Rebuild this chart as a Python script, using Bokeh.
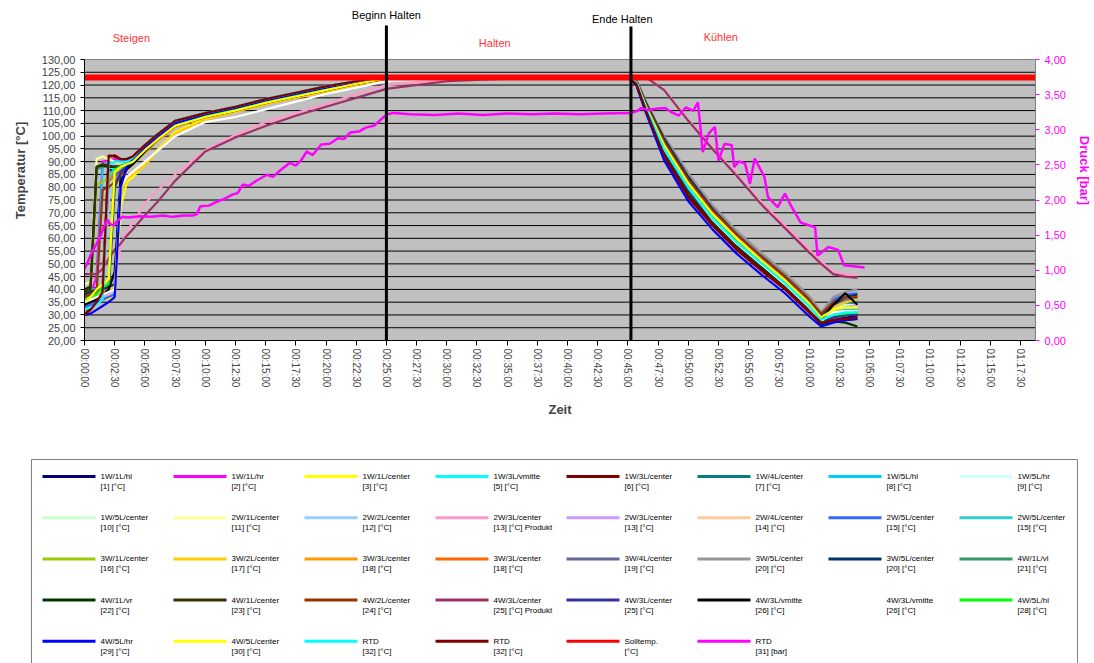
from bokeh.plotting import figure
from bokeh.models import Range1d, LinearAxis, FixedTicker
from bokeh.embed import file_html
from bokeh.resources import INLINE
from bokeh.core.properties import value

FONT = "Liberation Sans"

# ---------------- data ----------------
zeit = [0, 0.5, 1, 1.5, 2, 2.5, 3, 3.5, 4, 5, 6, 7.5, 10, 12.5, 15, 17.5, 20, 22.5, 25,
        30, 35, 45, 45.7, 46.5, 48, 50, 52, 54, 56, 58, 60, 61, 62, 63, 64]

s01 = [40, 40, 40.5, 41, 86, 88, 88, 89, 90, 95, 99, 104.5, 108, 110.5, 113.5, 116, 118.5, 121, 123, 123, 123, 123, 121, 110.5, 94, 78.5, 67, 57.5, 49.5, 41.5, 32.5, 27.5, 28, 29, 29.5]
s02 = [35, 38, 45, 90, 90.5, 91, 90.5, 90, 91, 96, 100, 105.5, 108.5, 111, 114, 116.5, 119, 121.5, 123.5, 123, 123, 123, 121.5, 112, 97, 82, 70, 60.5, 52, 44, 35, 30, 31.5, 32, 32]
s03 = [34, 35, 36, 36, 36.5, 37, 72, 82, 84, 89, 94.5, 101.5, 107, 110, 113, 115.5, 118, 120.5, 122.5, 123, 123, 123, 121, 111.5, 96.5, 81.5, 69.5, 60, 51.5, 43.5, 34.5, 29, 31, 33, 33]
s04 = [33, 36, 38, 40, 88, 87, 88, 89, 91, 96, 100, 105.5, 108.5, 111, 114, 116.5, 119, 121.5, 123.5, 123, 123, 123, 121, 111, 95, 80, 68, 58.5, 50.5, 42.5, 33.5, 28, 30, 32, 32]
s05 = [30, 33, 36, 40, 92.5, 92, 91, 91, 92, 96.5, 100.5, 106, 109, 111.5, 114.5, 117, 119.5, 121.5, 123.5, 123, 123, 123, 120, 109.5, 92, 76, 65, 55.5, 47.5, 40, 31, 26.5, 27.5, 28, 28.5]
s06 = [38, 38, 39, 40, 41, 85, 88, 89, 90.5, 95.5, 99.5, 105, 108.5, 111, 114, 116.5, 119, 121, 123, 123, 123, 123, 121, 111, 95.5, 80.5, 68.5, 59, 51, 43, 34, 28, 31, 34, 35]
s07 = [32, 35, 38, 88, 90, 90, 89.5, 90, 91.5, 96.5, 100.5, 106, 109, 111.5, 114.5, 117, 119.5, 121.5, 123.5, 123, 123, 123, 121.5, 112.5, 98, 83, 71, 61.5, 53, 45, 36, 29.5, 33, 35, 36]
s08 = [36, 37, 38, 40, 84, 86, 87, 88, 90, 95, 99, 104.5, 108, 110.5, 113.5, 116, 118.5, 121, 123, 123, 123, 123, 121, 111, 95, 80, 68, 58.5, 50.5, 42.5, 33.5, 28, 31, 33, 33.5]
s09 = [37, 38, 39, 41, 80, 84, 86, 88, 89.5, 94.5, 99, 104, 108, 110.5, 113.5, 116, 118.5, 121, 123, 123, 123, 123, 121, 111, 95.5, 80.5, 68.5, 59, 51, 43, 34, 28.5, 32, 34, 34]
s10 = [42, 43, 91, 92, 91, 90, 89, 89, 90, 95, 99, 104.5, 108, 110.5, 113.5, 116, 118.5, 121, 123, 123, 123, 123, 121, 111, 95, 80, 68, 58.5, 50.5, 42.5, 33.5, 28, 30, 31, 31.5]
s11 = [35, 36, 37, 38, 75, 86, 88, 89, 90, 95, 99.5, 104.5, 108, 110.5, 113.5, 116, 118.5, 121, 123, 123, 123, 123, 121.5, 112.5, 98, 83, 71, 61.5, 53, 45, 36, 30, 35, 38, 39]
s12 = [33, 34, 35, 36, 38, 46, 57, 63, 66, 73.5, 78.5, 85, 94.5, 100.5, 105.5, 109, 112.5, 116.5, 120, 122, 122.8, 123, 123, 123, 118, 106.5, 95.5, 85, 74.5, 65, 55.5, 51, 47, 46, 45.5]
s13 = [36, 37, 38, 39, 40, 83, 87, 88, 90, 95, 99, 104.5, 108, 110.5, 113.5, 116, 118.5, 121, 123, 123, 123, 123, 121, 111, 95.5, 80.5, 68.5, 59, 51, 43, 34, 28, 31, 33, 34]
s14 = [38, 39, 40, 41, 80, 81, 82, 86, 89, 94, 98.5, 104, 107.5, 110, 113, 115.5, 118, 120.5, 122.5, 123, 123, 123, 121, 112, 97, 82, 70, 60.5, 52, 44, 35, 29, 33, 36, 37]
s15 = [33, 34, 35, 36, 37, 38, 82, 87, 90, 95, 99, 104.5, 108, 110.5, 113.5, 116, 118.5, 121, 123, 123, 123, 123, 122, 113, 99.5, 85, 72.5, 62.5, 54, 46, 37, 31, 36, 38, 38.5]
s16 = [37, 38, 39, 40, 85, 87, 88, 89, 90.5, 95.5, 99.5, 105, 108.5, 111, 114, 116.5, 119, 121, 123, 123, 123, 123, 121.5, 111, 95.5, 80.5, 68.5, 59, 51, 43, 34, 28.5, 31, 32, 32]
s17 = [39, 40, 81, 82, 84, 86, 87, 88, 90, 95, 99, 104.5, 108, 110.5, 113.5, 116, 118.5, 121, 123, 123, 123, 123, 121, 111, 95, 80, 68, 58.5, 50.5, 42.5, 33.5, 28, 30, 31, 31]
s18 = [36, 37, 38, 39, 40, 41, 78, 83, 85, 88.5, 94, 101, 106.5, 109.5, 112.5, 115, 117.5, 120, 122.5, 123, 123, 123, 121, 112, 97.5, 82.5, 70.5, 61, 52.5, 44.5, 35.5, 29.5, 33, 35, 36]
s19 = [38, 39, 40, 41, 42, 80, 84, 87, 89, 93.5, 98, 103.5, 107.5, 110, 113, 115.5, 118, 120.5, 122.5, 123, 123, 123, 121.5, 112.5, 98, 83, 71, 61.5, 53, 45, 36, 30, 34, 37, 38]
s20 = [37, 38, 39, 40, 82, 85, 87, 88, 90, 94.5, 99, 104.5, 108, 110.5, 113.5, 116, 118.5, 121, 123, 123, 123, 123, 121.5, 112.5, 98.5, 83.5, 71.5, 62, 53.5, 45.5, 36, 30, 35, 37, 38]
s21 = [40, 40, 40, 41, 41, 84, 87, 88, 90, 95, 99, 104.5, 108, 110.5, 113.5, 116, 118.5, 121, 123, 123, 123, 123, 122, 113, 99, 84.5, 72, 62, 53.5, 45.5, 36.5, 30.5, 34, 36, 37]
s22 = [39, 40, 40, 41, 83, 86, 87, 88.5, 90, 95, 99, 104.5, 108, 110.5, 113.5, 116, 118.5, 121, 123, 123, 123, 123, 122, 113.5, 100, 85.5, 73, 63, 54.5, 46.5, 37.5, 31, 37, 39, 40]
s23 = [38, 39, 40, 40, 41, 42, 86, 88, 90, 95, 99, 104.5, 108, 110.5, 113.5, 116, 118.5, 121, 123, 123, 123, 123, 121.5, 113, 99, 84, 71.5, 61.5, 53, 45, 36, 30, 34, 37, 38]
s24 = [40, 41, 87, 88, 88, 88, 88.5, 89, 90, 95, 99, 104.5, 108, 110.5, 113.5, 116, 118.5, 121, 123, 123, 123, 123, 121, 111, 95, 80, 68, 58.5, 50.5, 42.5, 33.5, 28, 30, 31, 31]
s25 = [40, 41, 88, 88.5, 88, 88, 88, 89, 90, 95, 99, 104.5, 108, 110.5, 113.5, 116, 118.5, 121, 123, 123, 123, 123, 120.5, 110, 93, 77, 66, 56.5, 48.5, 41, 32, 26.5, 27.5, 27, 25.5]
s26 = [39, 40, 88, 89, 88.5, 88, 88, 89, 90, 95, 99, 104.5, 108, 110.5, 113.5, 116, 118.5, 121, 123, 123, 123, 123, 121, 110.5, 94, 78.5, 67, 57.5, 49.5, 42, 33, 27.5, 29, 30, 30]
s27 = [37, 38, 39, 79, 80, 82, 85, 87, 89.5, 94.5, 99, 104, 107.5, 110, 113, 115.5, 118, 120.5, 122.5, 123, 123, 123, 121.5, 112.5, 98, 83, 71, 61.5, 53, 45, 36, 30.5, 35, 37, 37]
s28 = [46, 46, 46, 48, 52, 55.5, 58, 61, 63.5, 69, 74, 82.5, 94, 99.5, 104, 108, 111.5, 115, 118.5, 121.5, 122.5, 123, 123, 123, 118, 106, 95, 84.5, 73.5, 64, 54.5, 50, 46, 45, 44.5]
s29 = [35, 36, 37, 38, 39, 80, 86, 88, 90, 95, 99, 104.5, 108, 110.5, 113.5, 116, 118.5, 121, 123, 123, 123, 123, 121, 110.5, 94.5, 79, 67.5, 58, 50, 42, 33, 27.5, 29, 30, 30]
s30 = [34, 35, 36, 38, 40, 47, 82, 87, 89, 94, 98.5, 104, 107.5, 110, 113, 115.5, 118, 120.5, 122.5, 123, 123, 123, 121, 111, 95.5, 80, 68, 58.5, 50.5, 42.5, 33.5, 28, 34, 38.5, 34]
s31 = [35, 36, 37, 38, 39, 40, 80, 84, 86, 90, 94, 100, 105.5, 107.5, 110.5, 113.5, 116.5, 119, 121.5, 122.5, 123, 123, 121, 111, 95, 80, 67.5, 58, 50, 42, 33, 27.5, 31, 31.5, 31.5]
s32 = [36, 37, 38, 41, 42, 87, 88, 88.5, 90, 95, 99, 104.5, 108, 110.5, 113.5, 116, 118.5, 121, 123, 123, 123, 123, 121, 111, 95, 80, 68, 58.5, 50.5, 42.5, 33.5, 28, 30, 30.5, 31]
s33 = [30, 30.5, 32, 33.5, 35, 37, 80, 88, 91, 95.5, 99.5, 105, 108.5, 111, 114, 116.5, 119, 121, 123, 123, 123, 123, 120, 109, 90.5, 74.5, 63.5, 54, 46, 38.5, 29.5, 25.5, 27, 28, 28.5]
s34 = [35, 37, 40, 42, 44, 86, 88, 89, 90, 94.5, 98.5, 104, 107.5, 110, 113, 115.5, 118, 120.5, 122.5, 123, 123, 123, 121, 111.5, 96.5, 81.5, 69.5, 60, 51.5, 43.5, 34.5, 29, 32, 33, 33]
s35 = [32, 33, 34, 36, 89, 90, 90, 90, 91.5, 96.5, 100.5, 106, 109, 111.5, 114.5, 117, 119.5, 121.5, 123.5, 123, 123, 123, 121, 111, 95, 80, 68, 58.5, 50.5, 42.5, 33.5, 28, 30, 31, 31]
s36 = [30, 32, 35, 39, 92, 92.5, 91, 91, 92, 96.5, 100.5, 106, 109, 111.5, 114.5, 117, 119.5, 121.5, 123.5, 123, 123, 123, 120.5, 110, 92.5, 76.5, 65.5, 56, 48, 40.5, 31.5, 27, 28, 28.5, 29]

soll_zeit = [0, 78.75]
soll_temp = [123, 123]

druck_punkte = [
    (0, 1.02), (0.2, 1.09), (0.6, 1.25), (1.0, 1.38), (1.3, 1.47), (1.6, 1.62), (1.9, 1.72),
    (2.1, 1.66), (2.4, 1.64), (2.7, 1.70), (3.1, 1.76), (3.6, 1.75), (4.6, 1.77), (5.5, 1.76),
    (6.5, 1.78), (7.3, 1.76), (8.2, 1.78), (9.0, 1.78), (9.3, 1.80), (9.6, 1.91), (10.3, 1.92),
    (10.9, 1.97), (11.6, 2.02), (12.3, 2.08), (12.7, 2.10), (13.1, 2.22), (13.6, 2.20),
    (14.2, 2.27), (15.1, 2.36), (15.6, 2.33), (16.2, 2.42), (17.0, 2.53), (17.5, 2.49),
    (18.0, 2.58), (18.4, 2.69), (18.9, 2.64), (19.6, 2.79), (20.3, 2.80), (21.0, 2.88),
    (21.5, 2.87), (22.0, 2.96), (22.8, 2.98), (23.3, 3.03), (24.0, 3.06), (24.7, 3.17),
    (25.1, 3.22), (25.6, 3.24), (27, 3.22), (29, 3.21), (31, 3.23), (33, 3.21), (35, 3.23),
    (37, 3.22), (39, 3.23), (41, 3.22), (43, 3.23), (45.3, 3.24), (45.8, 3.27), (46.1, 3.31),
    (46.7, 3.28), (47.3, 3.30), (48.1, 3.31), (48.6, 3.25), (49.2, 3.20), (49.8, 3.32),
    (50.4, 3.27), (50.8, 3.39), (51.2, 2.68), (51.7, 2.95), (52.2, 3.04), (52.5, 2.56),
    (53.0, 2.80), (53.6, 2.78), (53.8, 2.47), (54.2, 2.55), (54.7, 2.52), (55.1, 2.23),
    (55.5, 2.59), (56.3, 2.33), (56.6, 2.04), (57.4, 1.90), (58.0, 2.09), (58.5, 1.92),
    (59.3, 1.68), (60.5, 1.61), (60.7, 1.21), (61.6, 1.33), (62.4, 1.29), (62.9, 1.07),
    (64.6, 1.04),
]
druck_zeit = [a for a, b in druck_punkte]
druck_bar = [b for a, b in druck_punkte]

phase_zeit = [25.0, 45.25]

temp_series = [s01, s02, s03, s04, s05, s06, s07, s08, s09, s10, s11, s12, s13, s14, s15, s16, s17, s18,
               s19, s20, s21, s22, s23, s24, s25, s26, s27, s28, s29, s30, s31, s32, s33, s34, s35, s36]

legend_name = [
    "1W/1L/hl", "1W/1L/hr", "1W/1L/center", "1W/3L/vmitte", "1W/3L/center", "1W/4L/center", "1W/5L/hl", "1W/5L/hr",
    "1W/5L/center", "2W/1L/center", "2W/2L/center", "2W/3L/center", "2W/3L/center", "2W/4L/center", "2W/5L/center", "2W/5L/center",
    "3W/1L/center", "3W/2L/center", "3W/3L/center", "3W/3L/center", "3W/4L/center", "3W/5L/center", "3W/5L/center", "4W/1L/vl",
    "4W/1L/vr", "4W/1L/center", "4W/2L/center", "4W/3L/center", "4W/3L/center", "4W/3L/vmitte", "4W/3L/vmitte", "4W/5L/hl",
    "4W/5L/hr", "4W/5L/center", "RTD", "RTD", "Solltemp.", "RTD",
]
legend_unit = [
    "[1] [°C]", "[2] [°C]", "[3] [°C]", "[5] [°C]", "[6] [°C]", "[7] [°C]", "[8] [°C]", "[9] [°C]",
    "[10] [°C]", "[11] [°C]", "[12] [°C]", "[13] [°C] Produkt", "[13] [°C]", "[14] [°C]", "[15] [°C]", "[15] [°C]",
    "[16] [°C]", "[17] [°C]", "[18] [°C]", "[18] [°C]", "[19] [°C]", "[20] [°C]", "[20] [°C]", "[21] [°C]",
    "[22] [°C]", "[23] [°C]", "[24] [°C]", "[25] [°C] Produkt", "[25] [°C]", "[26] [°C]", "[26] [°C]", "[28] [°C]",
    "[29] [°C]", "[30] [°C]", "[32] [°C]", "[32] [°C]", "[°C]", "[31] [bar]",
]
colors = [
    "#000080", "#FF00FF", "#FFFF00", "#00FFFF", "#800000", "#008080", "#00CCFF", "#CCFFFF",
    "#CCFFCC", "#FFFF99", "#99CCFF", "#FF99CC", "#CC99FF", "#FFCC99", "#3366FF", "#33CCCC",
    "#99CC00", "#FFCC00", "#FF9900", "#FF6600", "#666699", "#969696", "#003366", "#339966",
    "#003300", "#333300", "#993300", "#993366", "#333399", "#000000", "#FFFFFF", "#00FF00",
    "#0000FF", "#FFFF00", "#00FFFF", "#800000", "#FF0000", "#FF00FF",
]

temp_ticks = [20, 25, 30, 35, 40, 45, 50, 55, 60, 65, 70, 75, 80, 85, 90, 95, 100, 105, 110, 115, 120, 125, 130]
temp_tick_labels = ["%d,00" % t for t in temp_ticks]
druck_ticks = [0, 0.5, 1, 1.5, 2, 2.5, 3, 3.5, 4]
druck_tick_labels = ["0,00", "0,50", "1,00", "1,50", "2,00", "2,50", "3,00", "3,50", "4,00"]
x_ticks = [0, 2.5, 5, 7.5, 10, 12.5, 15, 17.5, 20, 22.5, 25, 27.5, 30, 32.5, 35, 37.5, 40, 42.5,
           45, 47.5, 50, 52.5, 55, 57.5, 60, 62.5, 65, 67.5, 70, 72.5, 75, 77.5]
x_tick_labels = ["00:00:00", "00:02:30", "00:05:00", "00:07:30", "00:10:00", "00:12:30", "00:15:00", "00:17:30",
                 "00:20:00", "00:22:30", "00:25:00", "00:27:30", "00:30:00", "00:32:30", "00:35:00", "00:37:30",
                 "00:40:00", "00:42:30", "00:45:00", "00:47:30", "00:50:00", "00:52:30", "00:55:00", "00:57:30",
                 "01:00:00", "01:02:30", "01:05:00", "01:07:30", "01:10:00", "01:12:30", "01:15:00", "01:17:30"]

# ---------------- layout constants ----------------
X_END = 78.75
T_MIN, T_MAX, Y_TOP = 20, 130, 153.1
DRUCK_TOP = 4 * (Y_TOP - T_MIN) / (T_MAX - T_MIN)

p = figure(width=1094, height=440, x_range=Range1d(0, X_END), y_range=Range1d(T_MIN, Y_TOP),
           output_backend="svg", toolbar_location=None,
           min_border_left=84, min_border_right=55, min_border_top=0, min_border_bottom=100)
p.outline_line_color = None
p.background_fill_color = "white"
p.border_fill_color = "white"
p.xgrid.visible = False
p.ygrid.visible = False
p.extra_y_ranges = {"druck": Range1d(0, DRUCK_TOP)}

# plot area
p.quad(left=[0], right=[X_END], bottom=[T_MIN], top=[T_MAX], fill_color="#C0C0C0", line_color="#808080", line_width=1)
inner = temp_ticks[1:-1]
p.segment(x0=[0] * len(inner), x1=[X_END] * len(inner), y0=inner, y1=inner, line_color="black", line_width=1)

for s, c in zip(temp_series, colors[:36]):
    p.line(zeit, s, line_color=c, line_width=2.2)

p.line(soll_zeit, soll_temp, line_color="#FF0000", line_width=6)
p.line(druck_zeit, druck_bar, line_color="#FF00FF", line_width=2.5, y_range_name="druck")

p.segment(x0=phase_zeit, x1=phase_zeit, y0=[T_MIN, T_MIN], y1=[143.3, 142.9], line_color="black", line_width=3)

p.text(x=[25.0, 44.53], y=[147.6, 145.7], text=["Beginn Halten", "Ende Halten"],
       text_font=value(FONT), text_font_size="11px", text_align="center", text_baseline="middle",
       text_color="#000000")
p.text(x=[3.88, 33.97, 52.69], y=[138.6, 136.4, 138.7], text=["Steigen", "Halten", "Kühlen"],
       text_font=value(FONT), text_font_size="11px", text_align="center", text_baseline="middle",
       text_color="#FF3333")

# left axis
ly = p.yaxis[0]
ly.ticker = FixedTicker(ticks=temp_ticks)
ly.bounds = (T_MIN, T_MAX)
ly.major_label_overrides = dict(zip(temp_ticks, temp_tick_labels))
ly.axis_label = "Temperatur [°C]"
ly.axis_label_text_font = FONT
ly.axis_label_text_font_size = "13px"
ly.axis_label_text_font_style = "bold"
ly.axis_label_standoff = 11
ly.major_label_text_font = FONT
ly.major_label_text_font_size = "11px"
ly.major_tick_out = 4
ly.major_tick_in = 0
ly.minor_tick_out = 0
ly.minor_tick_in = 0
ly.axis_line_color = "black"

# bottom axis
bx = p.xaxis[0]
bx.ticker = FixedTicker(ticks=x_ticks)
bx.bounds = (0, X_END)
bx.major_label_overrides = dict(zip(x_ticks, x_tick_labels))
bx.major_label_orientation = "vertical"
bx.major_label_text_font = FONT
bx.major_label_text_font_size = "10px"
bx.major_label_standoff = 3
bx.axis_label = "Zeit"
bx.axis_label_text_font = FONT
bx.axis_label_text_font_size = "13px"
bx.axis_label_text_font_style = "bold"
bx.axis_label_standoff = 12
bx.major_tick_out = 5
bx.major_tick_in = 0
bx.minor_tick_out = 0
bx.minor_tick_in = 0
bx.axis_line_color = "black"

# right axis
ra = LinearAxis(y_range_name="druck", ticker=FixedTicker(ticks=druck_ticks), bounds=(0, 4))
ra.major_label_overrides = dict(zip(druck_ticks, druck_tick_labels))
ra.axis_label = "Druck [bar]"
ra.axis_label_text_font = FONT
ra.axis_label_text_font_size = "13px"
ra.axis_label_text_font_style = "bold"
ra.axis_label_text_color = "#FF00FF"
ra.axis_label_standoff = 8
ra.major_label_text_font = FONT
ra.major_label_text_font_size = "11px"
ra.major_label_text_color = "#FF00FF"
ra.major_label_standoff = 5
ra.major_tick_out = 4
ra.major_tick_in = 0
ra.minor_tick_out = 0
ra.minor_tick_in = 0
ra.major_tick_line_color = "#FF00FF"
ra.axis_line_color = "#808080"
p.add_layout(ra, "right")

# ---------------- legend (separate root, pixel-like coordinates) ----------------
leg = figure(width=1094, height=223, x_range=Range1d(0, 1094), y_range=Range1d(663, 440),
             output_backend="svg", toolbar_location=None, min_border=0,
             x_axis_location=None, y_axis_location=None)
leg.outline_line_color = None
leg.xgrid.visible = False
leg.ygrid.visible = False
leg.quad(left=[31], right=[1077], top=[459], bottom=[668], fill_color=None, line_color="#808080", line_width=1)

n = len(legend_name)
lx = [42 + 131 * (k % 8) for k in range(n)]
lyy = [476 + 41.2 * (k // 8) for k in range(n)]
leg.segment(x0=lx, x1=[x + 53 for x in lx], y0=lyy, y1=lyy, line_color=colors, line_width=3)
leg.text(x=[x + 58 for x in lx], y=lyy, text=legend_name, text_font=value(FONT), text_font_size="8px",
         text_baseline="middle", text_align="left", text_color="#000000")
leg.text(x=[x + 58 for x in lx], y=[y + 10 for y in lyy], text=legend_unit, text_font=value(FONT),
         text_font_size="8px", text_baseline="middle", text_align="left", text_color="#000000")

open("out.html", "w").write(file_html([p, leg], INLINE))
